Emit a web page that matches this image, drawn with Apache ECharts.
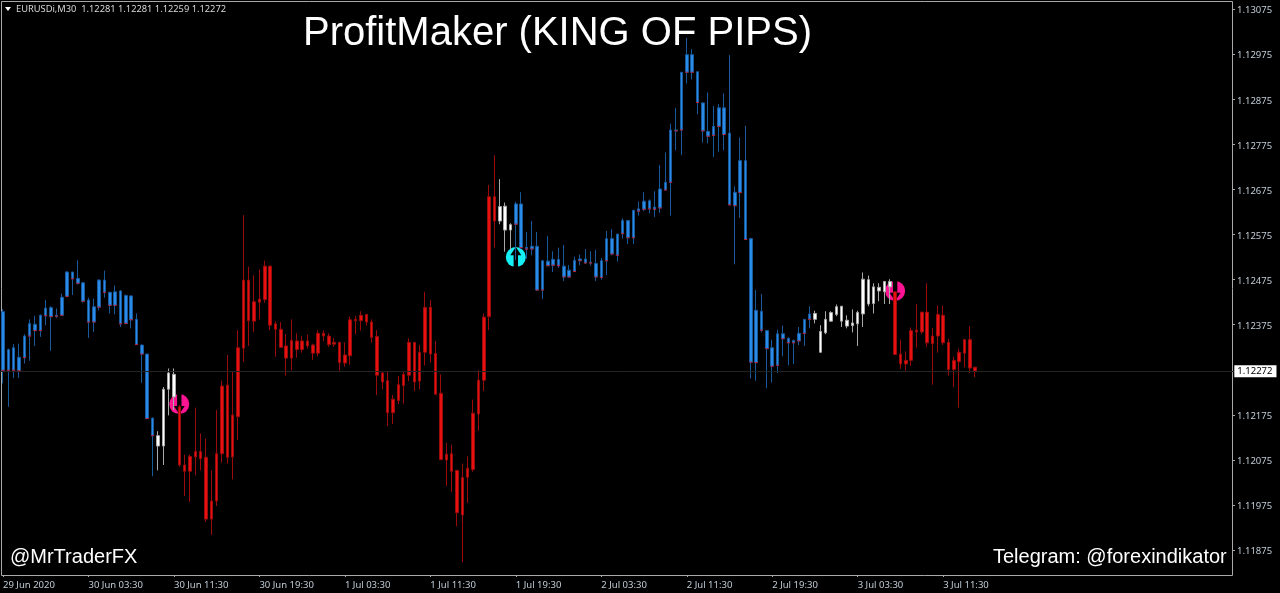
<!DOCTYPE html>
<html>
<head>
<meta charset="utf-8">
<title>ProfitMaker (KING OF PIPS)</title>
<script src="https://cdn.jsdelivr.net/npm/echarts@6/dist/echarts.min.js"></script>
<style>
  html, body { margin: 0; padding: 0; background: #000; }
  #chart { width: 1280px; height: 593px; }
</style>
</head>
<body>
<div id="chart"></div>
<script>
// EURUSDi M30 bars, in 1e-5 price points
const opens = [
  112404,112274,112324,112273,112302,112350,112376,112362,112395,112413,
  112394,112396,112438,112492,112478,112468,112430,112381,112414,112474,
  112447,112418,112450,112378,112439,112387,112330,112310,112168,112129,
  112106,112232,112265,112193,112064,112050,112082,112094,112081,111944,
  111984,112089,112241,112082,112171,112323,112474,112383,112425,112431,
  112505,112377,112365,112328,112301,112339,112320,112339,112330,112312,
  112356,112350,112332,112336,112290,112306,112387,112384,112398,112381,
  112349,112268,112251,112180,112207,112240,112263,112336,112250,112314,
  112414,112311,112223,112075,112089,112052,111953,112037,112054,112177,
  112252,112393,112659,112605,112638,112585,112598,112643,112547,112543,
  112549,112452,112516,112507,112520,112505,112481,112493,112517,112521,
  112512,112511,112480,112517,112566,112529,112577,112606,112568,112627,
  112631,112650,112631,112634,112674,112691,112807,112807,112935,112974,
  112936,112867,112804,112795,112815,112856,112800,112639,112668,112739,
  112566,112291,112405,112362,112324,112285,112355,112345,112335,112339,
  112356,112387,112400,112314,112357,112383,112398,112416,112385,112373,
  112377,112399,112475,112422,112458,112448,112471,112448,112310,112288,
  112296,112363,112359,112403,112333,112350,112396,112336,112276,112293,
  112312,112342,112281
];
const closes = [
  112274,112320,112274,112303,112350,112378,112362,112396,112412,112393,
  112396,112436,112492,112477,112467,112427,112381,112415,112474,112447,
  112418,112448,112377,112440,112386,112331,112310,112167,112129,112106,
  112232,112268,112215,112064,112050,112083,112094,112078,111944,111984,
  112089,112239,112081,112175,112324,112474,112384,112426,112432,112505,
  112374,112365,112325,112301,112340,112320,112339,112328,112312,112356,
  112350,112331,112336,112291,112308,112386,112384,112396,112381,112347,
  112263,112248,112180,112210,112242,112265,112336,112248,112314,112413,
  112310,112221,112076,112088,112050,111958,112036,112057,112179,112252,
  112392,112659,112605,112637,112585,112597,112643,112546,112543,112549,
  112452,112517,112506,112520,112506,112481,112496,112518,112521,112512,
  112514,112481,112517,112566,112532,112576,112606,112568,112629,112632,
  112649,112632,112636,112676,112691,112807,112805,112935,112974,112935,
  112868,112805,112793,112815,112856,112797,112641,112669,112739,112564,
  112292,112407,112363,112322,112283,112355,112344,112335,112340,112356,
  112387,112399,112387,112360,112387,112402,112415,112383,112372,112379,
  112402,112476,112421,112459,112450,112471,112459,112309,112288,112296,
  112362,112359,112403,112335,112350,112398,112335,112276,112296,112314,
  112342,112279,112272
];
const highs = [
  112410,112322,112332,112333,112354,112387,112395,112398,112430,112416,
  112411,112444,112494,112492,112518,112470,112435,112433,112476,112495,
  112448,112462,112452,112442,112440,112400,112331,112310,112169,112139,
  112237,112278,112278,112197,112087,112087,112191,112134,112123,112052,
  112186,112251,112308,112271,112363,112618,112504,112485,112498,112517,
  112505,112383,112381,112354,112387,112356,112350,112353,112333,112363,
  112363,112356,112346,112336,112336,112393,112395,112405,112399,112387,
  112363,112271,112271,112219,112261,112271,112345,112336,112330,112448,
  112430,112339,112265,112113,112109,112052,112067,112083,112209,112274,
  112400,112685,112751,112698,112646,112600,112648,112669,112581,112605,
  112581,112518,112572,112538,112546,112552,112507,112526,112531,112543,
  112538,112541,112523,112583,112587,112577,112611,112607,112629,112648,
  112669,112653,112671,112729,112757,112821,112856,112935,113011,112986,
  112937,112868,112890,112860,112864,112888,112973,112682,112790,112816,
  112568,112452,112443,112363,112342,112364,112373,112347,112342,112370,
  112387,112416,112406,112374,112405,112405,112420,112416,112396,112409,
  112406,112491,112484,112467,112467,112472,112476,112448,112342,112316,
  112369,112421,112404,112467,112368,112418,112417,112344,112304,112322,
  112343,112372,112281
];
const lows = [
  112245,112193,112257,112257,112289,112295,112328,112348,112374,112317,
  112390,112395,112436,112441,112464,112424,112346,112359,112407,112435,
  112400,112398,112370,112376,112367,112330,112246,112165,112039,112052,
  112064,112174,112186,112060,111995,111982,112041,112052,111938,111909,
  111973,112069,112067,112032,112119,112293,112328,112359,112387,112424,
  112363,112304,112324,112262,112274,112302,112313,112322,112297,112305,
  112339,112326,112326,112273,112282,112286,112354,112362,112373,112335,
  112219,112232,112150,112155,112199,112200,112250,112228,112232,112285,
  112291,112219,112075,112017,112004,111928,111848,111980,112049,112140,
  112228,112363,112546,112598,112537,112541,112518,112543,112521,112529,
  112450,112432,112504,112492,112501,112472,112480,112492,112507,112511,
  112506,112472,112475,112485,112529,112515,112566,112554,112554,112617,
  112627,112622,112614,112623,112673,112617,112762,112751,112910,112919,
  112842,112779,112777,112747,112759,112762,112640,112509,112612,112563,
  112256,112251,112358,112234,112247,112268,112305,112285,112288,112330,
  112328,112367,112378,112313,112354,112382,112394,112370,112367,112358,
  112328,112370,112416,112400,112427,112421,112421,112308,112277,112273,
  112284,112324,112354,112326,112242,112313,112330,112262,112237,112191,
  112280,112268,112259
];
// indicator colour runs: [colour name, number of bars]
const trendRuns = [['blue', 29], ['white', 4], ['red', 60], ['white', 3], ['blue', 56], ['white', 15], ['red', 16]];
// signal arrows: [bar index, price points, kind]
const signals = [[33, 112199, 'sell'], [96, 112525, 'buy'], [167, 112450, 'sell']];
const timeTicks = ['29 Jun 2020', '30 Jun 03:30', '30 Jun 11:30', '30 Jun 19:30', '1 Jul 03:30', '1 Jul 11:30',
  '1 Jul 19:30', '2 Jul 03:30', '2 Jul 11:30', '2 Jul 19:30', '3 Jul 03:30', '3 Jul 11:30'];
const priceTicks = [1.13075, 1.12975, 1.12875, 1.12775, 1.12675, 1.12575, 1.12475, 1.12375, 1.12175, 1.12075, 1.11975, 1.11875];
const lastPrice = 1.12272;

const palette = {
  blue: { body: '#2a8ce8', wick: '#17599a' },
  white: { body: '#ffffff', wick: '#a8a8a8' },
  red: { body: '#e81010', wick: '#9a0c0c' }
};

const trend = trendRuns.flatMap(r => Array(r[1]).fill(r[0]));
const SLOTS = 231; // bars plus the empty chart shift on the right
const BAR_STEP = 5.345;
const categories = Array.from({ length: SLOTS }, (_, i) => (i % 16 === 0 && timeTicks[i / 16]) || ' ' + i);

const candles = opens.map((o, i) => ({
  value: [o / 1e5, closes[i] / 1e5, lows[i] / 1e5, highs[i] / 1e5],
  itemStyle: {
    color: palette[trend[i]].body,
    color0: palette[trend[i]].body,
    borderColor: palette[trend[i]].wick,
    borderColor0: palette[trend[i]].wick,
    borderWidth: 1
  }
}));
// small red foot under each blue body
const blueFeet = opens.map((o, i) => (trend[i] === 'blue' ? [i, Math.min(o, closes[i]) / 1e5] : null)).filter(Boolean);

const chart = echarts.init(document.getElementById('chart'), null, { renderer: 'canvas' });
const textFont = '"Liberation Sans", Arial, sans-serif';
const axisFont = '"Noto Sans", "DejaVu Sans", sans-serif';

chart.setOption({
  animation: false,
  backgroundColor: '#000',
  title: [
    { text: 'ProfitMaker (KING OF PIPS)', left: 303, top: 14, textStyle: { color: '#fff', fontFamily: textFont, fontSize: 40, fontWeight: 'normal' }, padding: 0 },
    { text: '@MrTraderFX', left: 10, top: 547, textStyle: { color: '#fff', fontFamily: textFont, fontSize: 20, fontWeight: 'normal' }, padding: 0 },
    { text: 'Telegram: @forexindikator', left: 993, top: 547, textStyle: { color: '#fff', fontFamily: textFont, fontSize: 20, fontWeight: 'normal' }, padding: 0 },
    { text: 'EURUSDi,M30  1.12281 1.12281 1.12259 1.12272', left: 16, top: 5, textStyle: { color: '#d8d8d8', fontFamily: axisFont, fontSize: 9.3, fontWeight: 'normal' }, padding: 0 }
  ],
  graphic: [
    { type: 'rect', silent: true, z: 1, shape: { x: 1.5, y: 1.5, width: 1231, height: 574 }, style: { fill: null, stroke: '#a9a9a9', lineWidth: 1 } },
    { type: 'polygon', silent: true, z: 10, shape: { points: [[5, 7], [11, 7], [8, 11]] }, style: { fill: '#fff' } }
  ],
  grid: { left: 2.3 - BAR_STEP / 2, top: 1, width: SLOTS * BAR_STEP, height: 574 },
  xAxis: {
    type: 'category',
    data: categories,
    axisLine: { show: false },
    axisTick: {
      show: true, length: 2, inside: false, alignWithLabel: true,
      interval: i => i % 16 === 0 && i / 16 < timeTicks.length,
      lineStyle: { color: '#a9a9a9' }
    },
    axisLabel: {
      interval: i => i % 16 === 0 && i / 16 < timeTicks.length,
      align: 'left', margin: 5, color: '#c0ccd6', fontFamily: axisFont, fontSize: 9.5
    },
    splitLine: { show: false }
  },
  yAxis: {
    type: 'value',
    position: 'right',
    offset: -2.33,
    min: 1.1182,
    max: 1.13093,
    axisLine: { show: false },
    axisTick: { show: true, length: 3, customValues: priceTicks, lineStyle: { color: '#a9a9a9' } },
    axisLabel: {
      customValues: priceTicks, margin: 5,
      formatter: v => '{p|' + v.toFixed(5) + '}',
      rich: { p: { color: '#c0ccd6', fontFamily: axisFont, fontSize: 9.5, padding: [3, 0, 0, 0] } }
    },
    splitLine: { show: false }
  },
  series: [
    {
      type: 'scatter',
      z: 2,
      symbol: 'circle',
      symbolSize: 20,
      silent: true,
      itemStyle: { opacity: 1 },
      data: signals.map(s => ({ value: [s[0], s[1] / 1e5], itemStyle: { color: s[2] === 'buy' ? '#14f0f5' : '#ff1493', opacity: 1 } }))
    },
    {
      type: 'scatter',
      z: 3,
      symbol: 'path://M3 22 L3 9 L0 9 L5 0 L10 9 L7 9 L7 22 Z',
      symbolSize: [11, 20],
      silent: true,
      itemStyle: { color: '#000', opacity: 1 },
      data: signals.map(s => ({ value: [s[0], s[1] / 1e5], symbolRotate: s[2] === 'buy' ? 0 : 180 }))
    },
    {
      type: 'candlestick',
      z: 4,
      barWidth: 3,
      silent: true,
      clip: true,
      data: candles
    },
    {
      type: 'scatter',
      z: 5,
      symbol: 'rect',
      symbolSize: [3, 1],
      silent: true,
      itemStyle: { color: '#c81e32', opacity: 1 },
      data: blueFeet,
      markLine: {
        silent: true,
        symbol: 'none',
        precision: 5,
        lineStyle: { color: '#242424', type: 'solid', width: 1 },
        label: {
          position: 'end', distance: 0, formatter: () => lastPrice.toFixed(5), color: '#000',
          backgroundColor: '#fff', padding: [1, 4, 1, 3], fontFamily: axisFont, fontSize: 9.5
        },
        data: [{ yAxis: lastPrice }]
      }
    }
  ]
});
</script>
</body>
</html>
